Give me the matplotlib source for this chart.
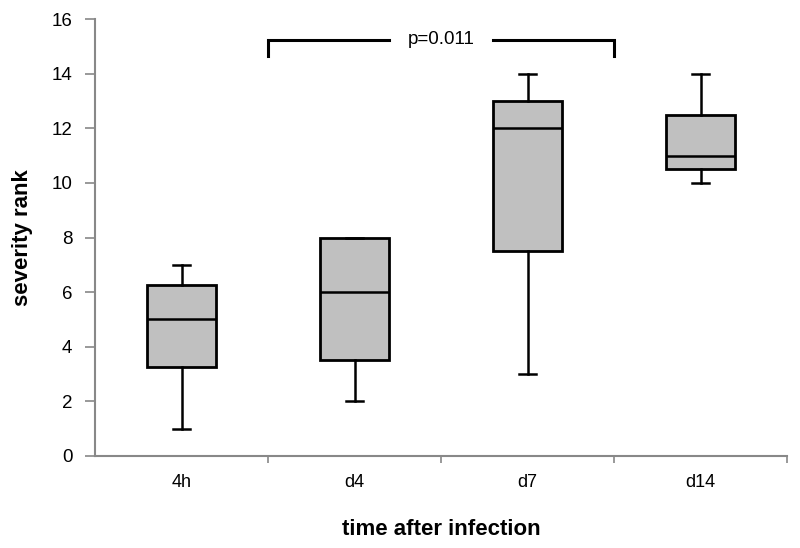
import matplotlib
matplotlib.use("Agg")
import matplotlib.pyplot as plt

plt.rcParams['font.family'] = ['Liberation Sans', 'DejaVu Sans']

groups = ["4h", "d4", "d7", "d14"]
whisker_low = [1, 2, 3, 10]
q1 = [3.25, 3.5, 7.5, 10.5]
median = [5, 6, 12, 11]
q3 = [6.25, 8, 13, 12.5]
whisker_high = [7, 8, 14, 14]
p_label = "p=0.011"

stats = []
for i, g in enumerate(groups):
    stats.append(dict(label=g, whislo=whisker_low[i], q1=q1[i], med=median[i],
                      q3=q3[i], whishi=whisker_high[i], fliers=[]))

fig = plt.figure(figsize=(8, 5.48), dpi=100)
ax = fig.add_axes([0.119, 0.168, 0.865, 0.797])

positions = list(range(len(groups)))
ax.bxp(stats, positions=positions, widths=0.4, patch_artist=True, showfliers=False,
       boxprops=dict(facecolor="#c0c0c0", edgecolor="black", linewidth=2),
       medianprops=dict(color="black", linewidth=1.8),
       whiskerprops=dict(color="black", linewidth=1.8),
       capprops=dict(color="black", linewidth=1.8), capwidths=0.1)

ax.set_xlim(-0.5, len(groups) - 0.5)
ax.set_ylim(0, 16)
ax.set_yticks(range(0, 17, 2))
ax.set_xticks(positions)
ax.set_xticklabels(groups)
ax.set_xticks([p + 0.5 for p in positions], minor=True)
ax.tick_params(axis="x", which="major", length=0, pad=13, labelsize=13)
ax.tick_params(axis="x", which="minor", length=5, color="#888888", width=1.2)
ax.tick_params(axis="y", length=7, color="#888888", width=1.2, labelsize=13.5, pad=9.5)

for side in ["top", "right"]:
    ax.spines[side].set_visible(False)
for side in ["left", "bottom"]:
    ax.spines[side].set_color("#888888")
    ax.spines[side].set_linewidth(1.5)

ax.set_ylabel("severity rank", fontsize=16, fontweight="bold", labelpad=13)
ax.set_xlabel("time after infection", fontsize=16, fontweight="bold", labelpad=20)

# significance bracket between 4h/d4 and d7/d14 boundaries
bx0, bx1 = 0.5, 2.5
by_top, by_bot = 15.25, 14.65
ax.plot([bx0, bx0, 1.2], [by_bot, by_top, by_top], color="black", lw=2.2,
        solid_joinstyle="miter")
ax.plot([1.8, bx1, bx1], [by_top, by_top, by_bot], color="black", lw=2.2,
        solid_joinstyle="miter")
ax.text(1.5, by_top, p_label, ha="center", va="center", fontsize=13.5)

fig.savefig("out.png", dpi=100)
